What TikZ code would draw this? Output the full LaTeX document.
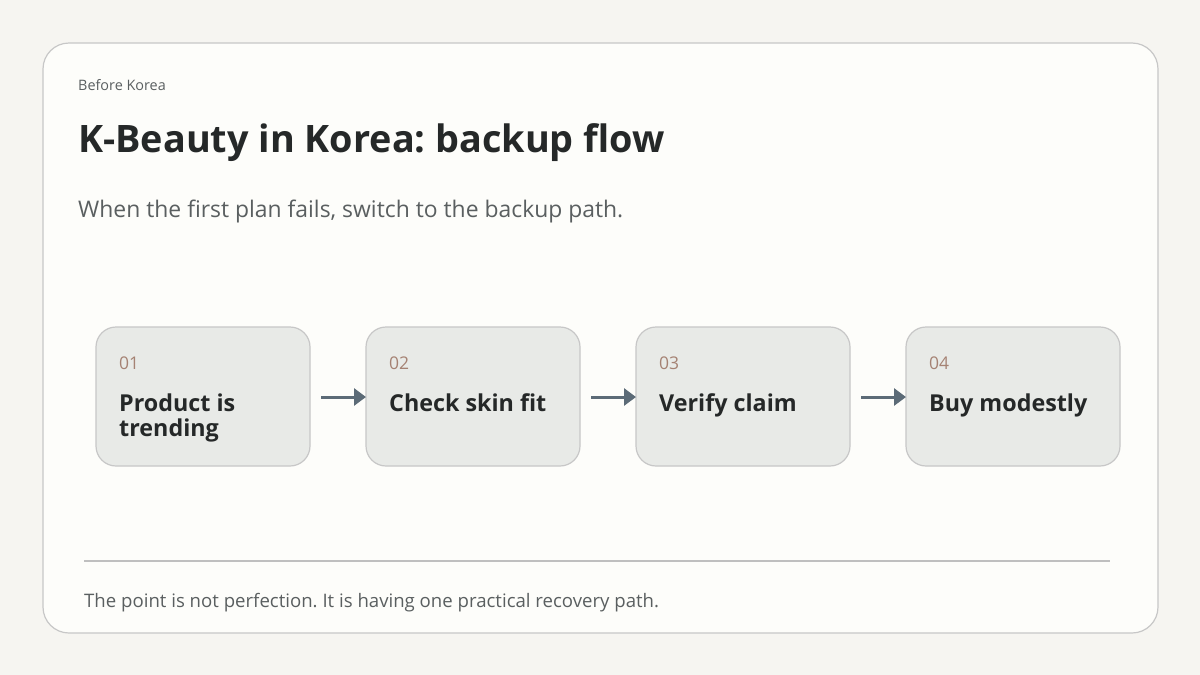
\documentclass[tikz,border=0pt]{standalone}
\usepackage{fontspec}
\setmainfont{Open Sans}
\usetikzlibrary{arrows.meta}
\begin{document}
\frenchspacing
\begin{tikzpicture}[x=1pt,y=-1pt,
  card/.style={draw=black!22,fill=cardbg,rounded corners=20pt,line width=1.2pt},
  num/.style={anchor=base west,text=numc,font=\fontsize{17.5}{20}\selectfont},
  lab/.style={anchor=base west,text=ink,font=\fontsize{23.3}{24}\selectfont\bfseries},
  arr/.style={draw=arrc,line width=3pt,-{Triangle[length=12pt,width=17pt]}}]
\definecolor{bg}{HTML}{F6F5F1}
\definecolor{panel}{HTML}{FDFDFA}
\definecolor{cardbg}{HTML}{E8EAE7}
\definecolor{ink}{HTML}{252828}
\definecolor{sub}{HTML}{5A5F60}
\definecolor{numc}{HTML}{A58273}
\definecolor{arrc}{HTML}{5C6B77}
\useasboundingbox (0,0) rectangle (1200,675);
\fill[bg] (0,0) rectangle (1200,675);
\draw[draw=black!22,fill=panel,line width=1.2pt,rounded corners=26pt] (43,43) rectangle (1158,633);
\node[anchor=base west,text=sub,font=\fontsize{14.4}{16}\selectfont,inner sep=0] (kick) at (78,90) {Before Korea};
\node[anchor=base west,text=ink,font=\fontsize{37.8}{40}\selectfont\bfseries,inner sep=0] (title) at (78,152) {K-Beauty in Korea: backup flow};
\node[anchor=base west,text=sub,font=\fontsize{22.9}{24}\selectfont,inner sep=0] (subt) at (78,217) {When the first plan fails, switch to the backup path.};
\foreach \i/\t/\u [count=\k from 0] in {01/{Product is}/{trending},02/{Check skin fit}/{},03/{Verify claim}/{},04/{Buy modestly}/{}}{
  \pgfmathsetmacro\xx{96+270*\k}
  \draw[card] (\xx,327) rectangle ++(214,139);
  \coordinate (L\k) at (\xx,397);
  \coordinate (R\k) at (\xx+214,397);
  \node[num,inner sep=0] at (\xx+23,369) {\i};
  \node[lab,inner sep=0] at (\xx+23,411) {\t};
  \node[lab,inner sep=0] at (\xx+23,436) {\u};
}
\draw[arr] ([xshift=11pt]R0) -- (L1);
\draw[arr] ([xshift=11pt]R1) -- (L2);
\draw[arr] ([xshift=11pt]R2) -- (L3);
\draw[black!25,line width=1.2pt] (84,561) -- (1110,561);
\node[anchor=base west,text=sub,font=\fontsize{18.6}{20}\selectfont,inner sep=0] (foot) at (84,607) {The point is not perfection. It is having one practical recovery path.};
\end{tikzpicture}
\end{document}
